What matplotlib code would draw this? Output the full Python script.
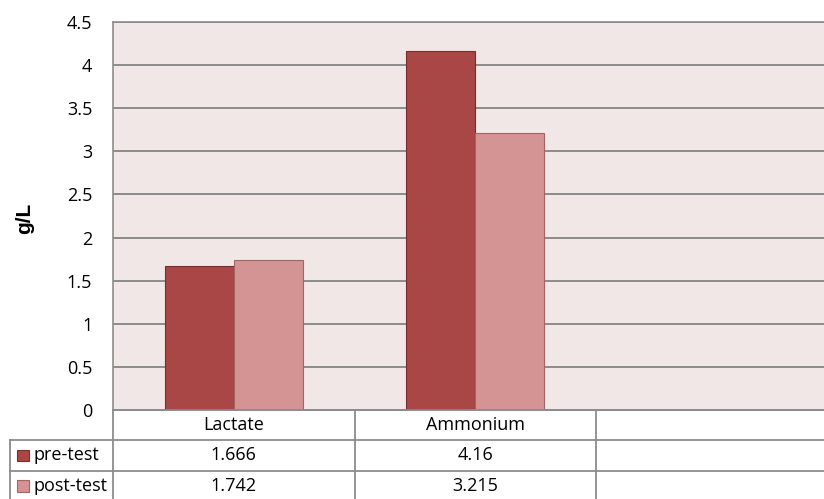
import matplotlib
matplotlib.use("Agg")
import matplotlib.pyplot as plt
from matplotlib.patches import Rectangle

categories = ["Lactate", "Ammonium", ""]
series_names = ["pre-test", "post-test"]
pre_test = [1.666, 4.16]
post_test = [1.742, 3.215]
table_labels = ["1.666", "4.16"], ["1.742", "3.215"]
yticks = [0, 0.5, 1, 1.5, 2, 2.5, 3, 3.5, 4, 4.5]
ytick_labels = ["0", "0.5", "1", "1.5", "2", "2.5", "3", "3.5", "4", "4.5"]

colors = ["#A94646", "#D49494"]
edges = ["#7A2E2E", "#A56464"]
grid_c = "#8C8C8C"
font = "Open Sans"
fs = 13

W, H = 824, 499
fig = plt.figure(figsize=(W / 100, H / 100), dpi=100)

# plot area in pixels
left_px, right_px, top_px, bot_px = 113, 837.5, 22, 410
ax = fig.add_axes([left_px / W, 1 - bot_px / H, (right_px - left_px) / W, (bot_px - top_px) / H])
ax.set_facecolor("#F2E7E7")
ax.set_xlim(-0.5, 2.5)
ax.set_ylim(0, 4.5)
bw = 0.285
x = range(len(pre_test))
ax.bar([i - bw / 2 for i in x], pre_test, width=bw, color=colors[0], edgecolor=edges[0], linewidth=0.8, zorder=3)
ax.bar([i + bw / 2 for i in x], post_test, width=bw, color=colors[1], edgecolor=edges[1], linewidth=0.8, zorder=3)
ax.set_yticks(yticks)
ax.set_yticklabels(ytick_labels, fontsize=fs, family=font)
ax.tick_params(axis="y", length=0, pad=15)
ax.set_xticks([])
ax.yaxis.grid(True, color=grid_c, linewidth=1.4, zorder=1)
ax.set_axisbelow(True)
for s in ax.spines.values():
    s.set_color(grid_c)
    s.set_linewidth(1.2)
ax.set_ylabel("g/L", fontsize=15, fontweight="bold", family="Liberation Sans")
ax.yaxis.set_label_coords((25 - left_px) / (right_px - left_px), (bot_px - 218) / (bot_px - top_px))
ax.yaxis.label.set_va("center")

# data table
row_h = 30.3
t_top = bot_px
t_bot = t_top + 3 * row_h
tax = fig.add_axes([10 / W, 1 - t_bot / H, (right_px - 10) / W, (t_bot - t_top) / H])
tax.set_xlim(10, right_px)
tax.set_ylim(3, 0)
tax.axis("off")
col_w = (right_px - left_px) / 3
lc = "#8C8C8C"
lw = 1.3
tax.plot([left_px, right_px], [0, 0], color=lc, lw=lw, clip_on=False)
for r in [1, 2, 3]:
    tax.plot([10, right_px], [r, r], color=lc, lw=lw, clip_on=False)
tax.plot([10, 10], [1, 3], color=lc, lw=lw, clip_on=False)
for c in range(4):
    xx = left_px + c * col_w
    tax.plot([xx, xx], [0, 3], color=lc, lw=lw, clip_on=False)
for c, cat in enumerate(categories):
    tax.text(left_px + (c + 0.5) * col_w, 0.5, cat, ha="center", va="center", fontsize=fs, family=font)
for r, (name, vals) in enumerate(zip(series_names, table_labels)):
    yy = r + 1.5
    tax.add_patch(Rectangle((17, yy - 0.19), 12, 0.38, facecolor=colors[r], edgecolor=edges[r], lw=0.8))
    tax.text(33, yy, name, ha="left", va="center", fontsize=fs, family=font)
    for c, v in enumerate(vals):
        tax.text(left_px + (c + 0.5) * col_w, yy, v, ha="center", va="center", fontsize=fs, family=font)

fig.savefig("out.png", dpi=100)
